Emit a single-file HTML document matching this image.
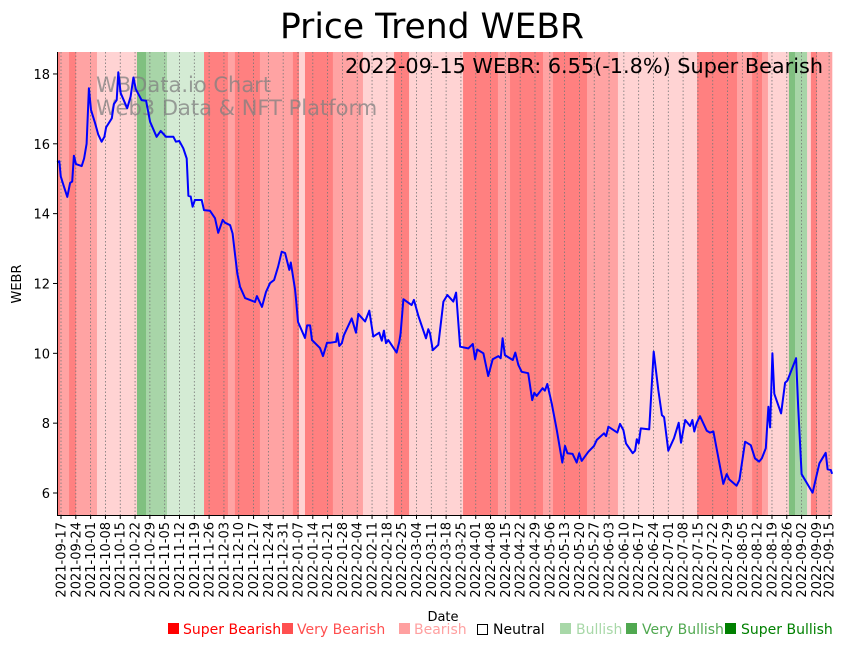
<!DOCTYPE html>
<html><head><meta charset="utf-8">
<style>
body{margin:0;background:#fff;}
svg{display:block;font-family:"DejaVu Sans","Liberation Sans",sans-serif;}
</style></head>
<body>
<svg id="chart" width="851" height="646" viewBox="0 0 851 646">
<text x="432" y="38" text-anchor="middle" font-size="34.5">Price Trend WEBR</text>
<g id="bands"></g>
<g id="grid"></g>
<text x="96" y="92" font-size="21" fill="#808080" fill-opacity="0.75">WBData.io Chart</text>
<text x="96" y="115" font-size="21" fill="#808080" fill-opacity="0.75">Web3 Data &amp; NFT Platform</text>
<g id="line"></g>
<text x="823" y="73" text-anchor="end" font-size="20.8">2022-09-15 WEBR: 6.55(-1.8%) Super Bearish</text>
<line x1="57.5" y1="52" x2="57.5" y2="515" stroke="#000" stroke-width="1"/>
<line x1="57" y1="515.5" x2="832" y2="515.5" stroke="#000" stroke-width="1"/>
<g id="yaxis"></g>
<g id="xaxis"></g>
<text transform="translate(21,284) rotate(-90)" text-anchor="middle" font-size="13">WEBR</text>
<text x="443" y="621" text-anchor="middle" font-size="13">Date</text>
<g font-size="14">
<g><rect x="168" y="623" width="11" height="11" fill="#ff0000"/><text x="183" y="634" fill="#ff0000">Super Bearish</text></g>
<g><rect x="282" y="623" width="11" height="11" fill="#ff5050"/><text x="297" y="634" fill="#ff5050">Very Bearish</text></g>
<g><rect x="399" y="623" width="11" height="11" fill="#ffa0a0"/><text x="414" y="634" fill="#ffa0a0">Bearish</text></g>
<g><rect x="477.5" y="624.5" width="10" height="10" fill="none" stroke="#000"/><text x="493" y="634" fill="#000">Neutral</text></g>
<g><rect x="560" y="623" width="11" height="11" fill="#a8d8a8"/><text x="576" y="634" fill="#a8d8a8">Bullish</text></g>
<g><rect x="626" y="623" width="11" height="11" fill="#50a850"/><text x="642" y="634" fill="#50a850">Very Bullish</text></g>
<g><rect x="725" y="623" width="11" height="11" fill="#008000"/><text x="741" y="634" fill="#008000">Super Bullish</text></g>
</g>
</svg>
<script>
// days after 2021-09-17
const bandStarts=[-2,-0.5,3.8,7.1,17,35.9,40.2,50.1,67.6,78.9,82.2,94,97.8,109.6,112.5,115.3,128.5,131.9,142.7,157.4,164.5,190,206.5,212.2,227.8,232.5,248.6,263.2,300.6,304.8,319.5,326.6,331.3,334.1,344,346.9,352.6,354.4,357.3];
const bandEnd=364.4;
const bandLevels=[-2,-1,-2,-1,-0.5,2,1,0.5,-2,-1,-2,-1,-1,-2,-0.5,-2,-1,-1,-0.5,-2,-0.5,-2,-1,-2,-1,-2,-1,-0.5,-2,-2,-1,-2,-1,-0.5,2,1,-0.5,-2,-1];
const priceDays=[-1.9,-0.8,-0.1,1.4,3.0,4.3,5.3,6.1,7.1,9.8,10.9,12.1,13.2,14.2,16.1,17.6,19.2,20.5,21.3,24.0,25.0,26.3,27.1,28.2,31.3,32.9,34.2,35.4,38.1,40.2,42.1,45.2,47.1,49.6,53.1,54.3,55.9,57.8,59.4,60.2,61.3,62.2,63.3,66.5,67.6,70.4,72.8,74.3,76.4,77.5,79.9,81.1,82.2,83.3,84.6,87.0,91.7,92.6,95.0,96.9,98.8,100.7,102.6,104.3,105.9,107.9,108.6,110.6,111.1,112.0,115.3,116.3,117.7,118.6,122.4,123.8,125.7,127.1,130.0,130.6,131.5,132.7,133.7,137.4,139.4,140.5,143.7,145.7,147.6,150.4,151.6,152.6,153.6,154.7,158.6,159.9,160.5,161.8,165.7,166.8,168.9,172.5,173.6,174.4,175.7,178.3,180.7,182.6,185.4,186.7,188.6,192.5,194.6,195.7,196.7,199.6,201.9,204.0,206.7,207.8,208.7,209.8,213.5,214.7,216.1,217.7,220.8,222.7,223.7,224.8,227.6,228.7,229.8,231.9,234.3,236.9,238.2,239.3,241.8,243.7,244.9,246.1,249.2,251.9,253.2,256.6,257.6,258.7,262.9,264.2,265.8,267.0,270.2,271.3,272.1,273.0,274.0,278.0,278.8,280.1,282.3,284.0,285.0,287.0,289.7,291.9,293.0,295.0,297.3,298.4,299.3,300.4,302.0,305.2,306.7,308.3,313.0,314.6,315.8,319.3,320.6,323.3,326.0,328.0,329.9,331.2,333.1,334.3,335.1,336.2,337.1,340.3,342.2,343.3,347.4,348.4,350.0,355.2,358.4,361.4,362.3,363.8,364.4];
const priceValues=[15.48,15.5,15.06,14.77,14.48,14.88,14.92,15.66,15.42,15.36,15.58,16.0,17.59,16.97,16.59,16.27,16.06,16.2,16.47,16.73,17.14,17.25,18.05,17.45,17.02,17.35,17.9,17.56,17.25,17.23,16.63,16.2,16.37,16.2,16.2,16.06,16.08,15.87,15.58,14.51,14.49,14.2,14.39,14.39,14.1,14.08,13.87,13.45,13.82,13.74,13.67,13.43,12.86,12.29,11.91,11.58,11.47,11.64,11.33,11.76,12.01,12.1,12.48,12.91,12.87,12.39,12.6,11.84,11.52,10.9,10.44,10.8,10.8,10.38,10.15,9.92,10.3,10.3,10.33,10.57,10.21,10.29,10.52,11.0,10.59,11.13,10.91,11.22,10.48,10.59,10.36,10.65,10.29,10.38,10.02,10.33,10.57,11.55,11.38,11.53,11.07,10.43,10.69,10.57,10.09,10.24,11.48,11.67,11.48,11.74,10.19,10.14,10.27,9.83,10.11,10.0,9.35,9.83,9.92,9.86,10.43,9.95,9.81,10.02,9.67,9.47,9.43,8.66,8.87,8.78,9.0,8.93,9.12,8.57,7.8,6.87,7.35,7.14,7.12,6.87,7.14,6.92,7.18,7.35,7.52,7.71,7.63,7.9,7.73,7.98,7.8,7.42,7.14,7.21,7.54,7.42,7.85,7.82,8.66,10.05,8.95,8.23,8.17,7.21,7.57,8.01,7.44,8.09,7.92,8.09,7.76,8.0,8.2,7.78,7.73,7.76,6.26,6.54,6.39,6.21,6.37,7.47,7.37,6.99,6.9,6.99,7.28,8.47,7.88,10.0,8.84,8.28,9.16,9.22,9.86,8.45,6.54,6.01,6.85,7.15,6.68,6.66,6.55];
const yTicks=[6,8,10,12,14,16,18];
const tickDays=[0,7,14,21,28,35,42,49,56,63,70,77,84,91,98,105,112,119,126,133,140,147,154,161,168,175,182,189,196,203,210,217,224,231,238,245,252,259,266,273,280,287,294,301,308,315,322,329,336,343,350,357,363];

const NS="http://www.w3.org/2000/svg";
const X0=57,X1=832,Y0=52,Y1=515;
function xScale(d){return 61+d*2.116;}
function yScale(v){return 493-(v-6)*34.92;}
function mk(tag,attrs,parent){const e=document.createElementNS(NS,tag);for(const k in attrs)e.setAttribute(k,attrs[k]);parent.appendChild(e);return e;}
const colors={"-2":"#ff8080","-1":"#ffa3a3","-0.5":"#ffd3d3","0.5":"#d4ebd4","1":"#a8d5a8","2":"#80c080"};
const gB=document.getElementById('bands');
bandStarts.forEach((s,i)=>{
  const e=i+1<bandStarts.length?bandStarts[i+1]:bandEnd;
  const a=Math.max(X0,xScale(s)),b=Math.min(X1,xScale(e));
  const r=mk('rect',{x:a,y:Y0,width:Math.max(0,b-a)+0.3,height:Y1-Y0,fill:colors[String(bandLevels[i])]},gB);
  
  
});
const gG=document.getElementById('grid'),gX=document.getElementById('xaxis');
const base=Date.UTC(2021,8,17);
tickDays.forEach(d=>{
  const x=xScale(d);
  const ln=mk('line',{x1:x,y1:Y0,x2:x,y2:Y1,stroke:'#777','stroke-width':0.8,'stroke-dasharray':'1.5,2'},gG);
  
  
  const tk=mk('line',{x1:x,y1:Y1,x2:x,y2:Y1+4,stroke:'#000'},gX);
  
  
  const lbl=new Date(base+d*86400000).toISOString().slice(0,10);
  const t=mk('text',{transform:`translate(${x+4.5},${Y1+7}) rotate(-90)`,'text-anchor':'end','font-size':13},gX);
  t.textContent=lbl;
  
  
});
const gY=document.getElementById('yaxis');
yTicks.forEach(v=>{
  const y=yScale(v);
  const tk=mk('line',{x1:53,y1:y,x2:57,y2:y,stroke:'#000'},gY);
  
  
  const t=mk('text',{x:50,y:y+5,'text-anchor':'end','font-size':13},gY);
  t.textContent=String(v);
  
  
});
const pts=priceDays.map((d,i)=>xScale(d).toFixed(1)+','+yScale(priceValues[i]).toFixed(1)).join(' ');
const pl=mk('polyline',{points:pts,fill:'none',stroke:'#0000ff','stroke-width':2,'stroke-linejoin':'round'},document.getElementById('line'));


</script>
</body></html>
